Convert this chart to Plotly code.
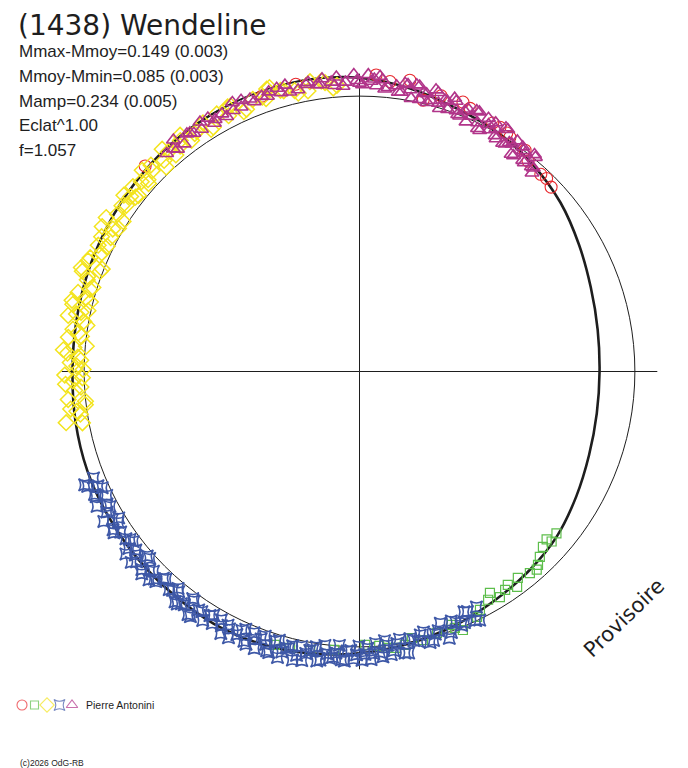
import plotly.graph_objects as go

# ---- header values -------------------------------------------------------
TITLE = "(1438) Wendeline"
MMAX_MMOY, MMAX_MMOY_ERR = 0.149, 0.003
MMOY_MMIN, MMOY_MMIN_ERR = 0.085, 0.003
MAMP, MAMP_ERR = 0.234, 0.005
ECLAT_EXP = 1.00
FREQ = 1.057
OBSERVER = "Pierre Antonini"
WATERMARK = "Provisoire"
COPYRIGHT = "(c)2026 OdG-RB"

# ---- Fourier fit: phase in degrees (0 at top, clockwise), mag minus mean --
FIT_PHASE = [0, 10, 20, 30, 40, 50, 60, 70, 80, 90, 100, 110, 120, 130, 140,
             150, 160, 170, 180, 190, 200, 210, 220, 230, 240, 250, 260, 270,
             280, 290, 300, 310, 320, 330, 340, 350, 360]
FIT_DM = [-0.070, -0.047, -0.020, -0.003, 0.022, 0.052, 0.090, 0.122, 0.141,
          0.149, 0.145, 0.130, 0.104, 0.074, 0.055, 0.037, 0.015, -0.005,
          -0.025, -0.042, -0.055, -0.061, -0.058, -0.057, -0.056, -0.055,
          -0.050, -0.045, -0.047, -0.053, -0.060, -0.068, -0.076, -0.081,
          -0.084, -0.080, -0.070]

# ---- session 1 (red circles) ----------------------------------------------
S1_PHASE = [313.8, 315.4, 320.0, 340.5, 347.5, 354.7, 357.0, 3.2, 6.0, 9.8,
            13.2, 16.5, 21.0, 22.8, 28.2, 29.9, 31.7, 32.7, 36.8, 38.7, 42.6,
            44.1, 46.1]
S1_DM = [-0.082, -0.086, -0.090, -0.064, -0.072, -0.089, -0.098, -0.082,
         -0.062, -0.077, -0.013, -0.047, -0.051, -0.039, -0.026, -0.025,
         -0.019, -0.012, -0.004, 0.023, 0.030, 0.026, 0.038]

# ---- session 2 (green squares) --------------------------------------------
S2_PHASE = [129.4, 131.5, 131.9, 133.7, 135.8, 137.3, 138.2, 139.8, 142.5,
            143.8, 145.2, 146.3, 148.1, 149.5, 150.6, 153.2, 154.4, 158.2,
            159.6, 160.0, 163.5, 166.7, 168.9, 170.6, 172.5, 174.3, 175.9,
            178.8, 185.2, 190.0, 194.1, 197.2]
S2_DM = [0.084, 0.077, 0.099, 0.089, 0.068, 0.049, 0.038, 0.046, 0.062, 0.034,
         0.063, 0.052, 0.039, 0.075, 0.054, 0.033, 0.013, -0.012, 0.007, 0.023,
         0.011, -0.002, 0.015, -0.007, -0.013, -0.009, 0.001, 0.008, -0.016,
         -0.032, -0.037, -0.042]

# ---- session 3 (yellow diamonds) ------------------------------------------
S3_PHASE = [259.5, 260.7, 262.0, 263.1, 264.5, 265.6, 266.8, 268.1, 269.3,
            270.4, 271.8, 272.9, 274.2, 275.3, 276.7, 277.8, 279.0, 280.3,
            281.5, 282.6, 283.9, 285.0, 286.3, 287.5, 288.6, 289.9, 291.1,
            292.2, 293.5, 294.7, 295.8, 297.0, 298.3, 299.4, 300.7, 301.9,
            303.0, 304.3, 305.5, 306.8, 307.9, 309.2, 310.4, 311.7, 312.8,
            314.1, 315.3, 316.6, 317.8, 319.0, 320.3, 321.5, 322.8, 324.0,
            325.3, 326.6, 327.8, 329.1, 330.3, 331.6, 332.9, 334.1, 335.4,
            336.7, 338.0, 339.2, 340.5, 341.8, 343.0, 344.3, 345.6, 347.0,
            348.3, 349.6, 351.0, 352.5, 354.0, 355.5,
            260.1, 261.3, 262.6, 263.8, 265.0, 266.2, 267.5, 268.7, 269.9,
            271.1, 272.3, 273.6, 274.8, 276.0, 277.2, 278.4, 279.6, 280.9,
            282.0, 283.2, 284.5, 285.7, 286.9, 288.0, 289.3, 290.5, 291.7,
            292.9, 294.1, 295.3, 296.4, 297.6, 298.9, 300.0, 301.3, 302.4,
            303.7, 304.9, 306.1, 307.4, 308.5, 309.8, 311.0, 312.2, 313.5,
            314.7, 315.9, 317.2, 318.4, 319.7, 320.9, 322.2, 323.4, 324.6,
            325.9, 327.2, 328.5, 329.7, 331.0, 332.2, 333.5, 334.7, 336.0,
            337.3, 338.6, 339.9, 341.1, 342.4, 343.6, 344.9, 346.3, 347.6,
            348.9, 350.3, 351.7, 353.2, 354.7, 356.2]
S3_DM = [-0.025, -0.090, -0.039, -0.003, -0.066, -0.095, -0.014, -0.044,
         -0.074, -0.004, -0.054, -0.026, -0.082, 0.004, -0.068, -0.033, -0.091,
         -0.019, -0.052, -0.011, -0.079, -0.032, -0.098, -0.016, -0.046,
         -0.074, -0.010, -0.068, -0.093, -0.032, -0.057, -0.108, -0.028,
         -0.076, -0.019, -0.089, -0.051, -0.105, -0.042, -0.072, -0.033,
         -0.065, -0.097, -0.028, -0.079, -0.051, -0.108, -0.023, -0.096,
         -0.061, -0.112, -0.049, -0.081, -0.040, -0.054, -0.110, -0.070,
         -0.036, -0.099, -0.108, -0.046, -0.076, -0.104, -0.039, -0.096,
         -0.118, -0.060, -0.083, -0.113, -0.064, -0.128, -0.050, -0.097,
         -0.038, -0.106, -0.067, -0.096, -0.045,
         -0.085, -0.027, -0.061, -0.001, -0.091, -0.039, -0.072, -0.007,
         -0.095, -0.029, -0.014, -0.066, -0.043, -0.092, -0.019, -0.055,
         -0.004, -0.081, -0.036, -0.073, -0.010, -0.065, -0.025, -0.093,
         -0.048, -0.082, -0.006, -0.065, -0.037, -0.102, -0.024, -0.060,
         -0.096, -0.037, -0.080, -0.018, -0.094, -0.055, -0.113, -0.049,
         -0.028, -0.118, -0.053, -0.039, -0.091, -0.069, -0.119, -0.047,
         -0.083, -0.033, -0.110, -0.065, -0.102, -0.113, -0.057, -0.092,
         -0.033, -0.124, -0.073, -0.108, -0.077, -0.111, -0.035, -0.093,
         -0.065, -0.129, -0.050, -0.085, -0.120, -0.059, -0.100, -0.037,
         -0.111, -0.071, -0.127, -0.060, -0.036, -0.089]

# ---- session 4 (blue stars) -----------------------------------------------
S4_PHASE = [248.2, 247.1, 245.7, 244.6, 243.2, 242.3, 240.9, 239.6, 238.7,
            237.3, 236.1, 235.0, 233.8, 232.5, 231.4, 230.1, 229.0, 227.7,
            226.6, 225.3, 224.1, 223.0, 221.7, 220.5, 219.4, 218.1, 216.9,
            215.8, 214.6, 213.3, 212.2, 210.9, 209.8, 208.5, 207.4, 206.2,
            205.0, 203.8, 202.6, 201.5, 200.2, 199.0, 197.9, 196.6, 195.5,
            194.3, 193.1, 191.9, 190.8, 189.5, 188.4, 187.2, 186.0, 184.8,
            183.6, 182.5, 181.2, 180.1, 178.9, 177.7, 176.6, 175.3, 174.2,
            173.0, 171.5, 170.1, 168.6, 167.0, 165.4, 163.9, 162.2, 160.6,
            159.0, 157.3, 155.8, 154.2,
            247.6, 246.4, 245.1, 243.9, 242.8, 241.6, 240.2, 239.1, 238.0,
            236.7, 235.5, 234.4, 233.1, 232.0, 230.7, 229.5, 228.3, 227.1,
            225.9, 224.7, 223.5, 222.3, 221.1, 219.9, 218.7, 217.5, 216.3,
            215.2, 214.0, 212.7, 211.5, 210.3, 209.1, 207.9, 206.8, 205.6,
            204.4, 203.2, 202.0, 200.8, 199.6, 198.4, 197.2, 196.0, 194.9,
            193.7, 192.5, 191.3, 190.1, 188.9, 187.8, 186.6, 185.4, 184.2,
            183.0, 181.8, 180.6, 179.5, 178.3, 177.1, 175.9, 174.7, 173.6,
            172.2, 170.8, 169.3, 167.8, 166.2, 164.6, 163.1, 161.4, 159.8,
            158.1, 156.5, 155.0, 153.6]
S4_DM = [-0.043, -0.075, -0.027, -0.062, -0.086, -0.038, -0.053, -0.080,
         -0.025, -0.067, -0.048, -0.090, -0.035, -0.059, -0.042, -0.084,
         -0.023, -0.072, -0.052, -0.079, -0.066, -0.033, -0.089, -0.048,
         -0.037, -0.076, -0.063, -0.029, -0.085, -0.046, -0.072, -0.034,
         -0.096, -0.054, -0.040, -0.081, -0.057, -0.025, -0.076, -0.047,
         -0.037, -0.051, -0.076, -0.020, -0.060, -0.040, -0.079, -0.022,
         -0.045, -0.026, -0.066, -0.003, -0.050, -0.028, -0.052, -0.017,
         -0.047, 0.003, -0.029, -0.050, 0.012, -0.042, 0.001, -0.023, 0.019,
         -0.040, 0.004, 0.020, -0.018, 0.008, 0.044, -0.005, 0.026, 0.013,
         0.049, -0.003,
         -0.083, -0.039, -0.064, -0.024, -0.075, -0.032, -0.090, -0.049,
         -0.036, -0.070, -0.086, -0.046, -0.030, -0.080, -0.055, -0.068,
         -0.022, -0.083, -0.045, -0.063, -0.037, -0.091, -0.054, -0.029,
         -0.075, -0.066, -0.025, -0.084, -0.047, -0.091, -0.042, -0.063,
         -0.034, -0.080, -0.050, -0.094, -0.035, -0.069, -0.025, -0.080,
         -0.022, -0.072, -0.027, -0.084, -0.041, -0.027, -0.059, -0.074,
         -0.031, -0.013, -0.061, -0.034, -0.045, 0.003, -0.056, -0.015,
         -0.031, -0.052, -0.006, -0.028, -0.024, 0.020, -0.037, 0.003,
         -0.038, 0.014, -0.003, 0.029, -0.014, 0.018, -0.024, 0.038, 0.007,
         0.054, 0.002, 0.050]

# ---- session 5 (purple triangles) -----------------------------------------
S5_PHASE = [318.5, 319.6, 320.7, 321.8, 322.9, 324.0, 325.2, 326.3, 327.4,
            328.5, 329.7, 330.8, 331.9, 333.0, 334.2, 335.3, 336.4, 337.5,
            338.7, 339.8, 340.9, 342.0, 343.2, 344.3, 345.4, 346.5, 347.7,
            348.8, 349.9, 351.0, 352.2, 353.3, 354.4, 355.5, 356.7, 357.8,
            358.9, 0.0, 1.2, 2.3, 3.4, 4.5, 5.7, 6.8, 7.9, 9.0, 10.2, 11.3,
            12.4, 13.6, 14.7, 15.8, 16.9, 18.0, 19.2, 20.3, 21.4, 22.5, 23.7,
            24.8, 25.9, 27.0, 28.2, 29.3, 30.4, 31.5, 32.6, 33.8, 34.9, 36.0,
            37.2, 38.3, 39.4, 40.5,
            319.0, 320.1, 321.2, 322.4, 323.5, 324.6, 325.7, 326.9, 328.0,
            329.1, 330.2, 331.4, 332.5, 333.6, 334.7, 335.9, 337.0, 338.1,
            339.2, 340.4, 341.5, 342.6, 343.7, 344.9, 346.0, 347.1, 348.2,
            349.4, 350.5, 351.6, 352.7, 353.9, 355.0, 356.1, 357.2, 358.4,
            359.5, 0.6, 1.7, 2.9, 4.0, 5.1, 6.2, 7.4, 8.5, 9.6, 10.7, 11.9,
            13.0, 14.1, 15.2, 16.4, 17.5, 18.6, 19.7, 20.9, 22.0, 23.1, 24.2,
            25.4, 26.5, 27.6, 28.7, 29.9, 31.0, 32.1, 33.2, 34.4, 35.5, 36.6,
            37.7, 38.9, 40.0, 41.0]
S5_DM = [-0.060, -0.101, -0.046, -0.087, -0.109, -0.070, -0.057, -0.097,
         -0.079, -0.109, -0.047, -0.087, -0.064, -0.117, -0.056, -0.097,
         -0.078, -0.105, -0.055, -0.087, -0.104, -0.071, -0.116, -0.055,
         -0.078, -0.096, -0.050, -0.106, -0.070, -0.087, -0.054, -0.111,
         -0.059, -0.076, -0.040, -0.093, -0.082, -0.050, -0.095, -0.058,
         -0.042, -0.066, -0.039, -0.089, -0.026, -0.063, -0.042, -0.065,
         -0.012, -0.040, -0.019, -0.056, 0.002, -0.035, -0.054, -0.011, 0.004,
         -0.034, -0.013, -0.041, 0.021, -0.034, 0.004, -0.012, 0.022, -0.033,
         0.021, 0.006, 0.042, -0.009, 0.004, 0.038, -0.007, 0.031,
         -0.099, -0.057, -0.082, -0.046, -0.106, -0.067, -0.096, -0.053,
         -0.113, -0.076, -0.058, -0.093, -0.047, -0.103, -0.084, -0.055,
         -0.113, -0.070, -0.093, -0.064, -0.057, -0.114, -0.075, -0.101,
         -0.049, -0.087, -0.108, -0.064, -0.115, -0.056, -0.075, -0.100,
         -0.045, -0.087, -0.055, -0.104, -0.060, -0.044, -0.082, -0.067,
         -0.078, -0.032, -0.089, -0.049, -0.027, -0.060, -0.010, -0.063,
         -0.041, -0.008, -0.063, -0.017, -0.036, -0.004, -0.045, 0.001,
         -0.022, 0.016, -0.041, 0.000, 0.024, -0.013, -0.032, 0.013, -0.035,
         0.024, 0.007, -0.016, 0.041, 0.001, 0.034, -0.013, 0.032, 0.050]

SESSIONS = [(S1_PHASE, S1_DM), (S2_PHASE, S2_DM), (S3_PHASE, S3_DM),
            (S4_PHASE, S4_DM), (S5_PHASE, S5_DM)]
COLORS = ["#E8282D", "#5DBE4B", "#F3E41E", "#3E58A7", "#B1358A"]
SYMBOLS = ["circle-open", "square-open", "diamond-open", "star-square-open",
           "triangle-up-open"]
SIZES = [12, 9, 12, 11, 12]
WIDTHS = [1.1, 1.2, 1.5, 1.6, 1.6]
KEY_SIZES = [10, 8, 11, 10, 10]

# ---- page geometry (body has an 8px margin) --------------------------------
OFF = 8
W, H = 680, 760
CX, CY = 359.5, 371.5        # screen centre of the polar plot
RAD = 297.8                  # screen radius of the axis cross
INK = "#1E1E1E"
FONT = "Liberation Sans, Arial, sans-serif"
WIDE = "DejaVu Sans, sans-serif"


def px(sx):
    return (sx - OFF) / W


def py(sy):
    return 1 - (sy - OFF) / H


def to_radius(dm):
    return [(10 ** (-0.4 * m)) ** ECLAT_EXP for m in dm]


r_max = (10 ** (0.4 * MMOY_MMIN)) ** ECLAT_EXP

fig = go.Figure()

fig.add_trace(go.Scatterpolar(
    r=to_radius(FIT_DM), theta=FIT_PHASE, mode="lines",
    line=dict(color=INK, width=2.6, shape="spline"),
    hoverinfo="skip",
))

for (phase, dm), col, sym, size, lw in zip(SESSIONS, COLORS, SYMBOLS, SIZES,
                                           WIDTHS):
    fig.add_trace(go.Scatterpolar(
        r=to_radius(dm), theta=phase, mode="markers",
        marker=dict(symbol=sym, size=size, color=col,
                    line=dict(color=col, width=lw)),
    ))

# session key at the bottom left
fig.add_trace(go.Scatter(
    x=list(range(len(COLORS))), y=[0] * len(COLORS), mode="markers",
    marker=dict(symbol=SYMBOLS, size=KEY_SIZES, color=COLORS,
                line=dict(color=COLORS, width=1.1)),
    cliponaxis=False, xaxis="x", yaxis="y",
))

fig.update_layout(
    width=W, height=H,
    margin=dict(l=0, r=0, t=0, b=0),
    paper_bgcolor="white", plot_bgcolor="white",
    showlegend=False,
    polar=dict(
        domain=dict(x=[px(CX - RAD), px(CX + RAD)],
                    y=[py(CY + RAD), py(CY - RAD)]),
        bgcolor="rgba(0,0,0,0)",
        radialaxis=dict(range=[0, r_max], tickvals=[1.0], showticklabels=False,
                        ticks="", showline=False, showgrid=True,
                        gridcolor=INK, gridwidth=1),
        angularaxis=dict(rotation=90, direction="clockwise",
                         tickvals=[0, 90, 180, 270], showticklabels=False,
                         ticks="", showline=False, showgrid=True,
                         gridcolor=INK, gridwidth=1.3),
    ),
    xaxis=dict(domain=[px(22), px(72)], range=[0, len(COLORS) - 1],
               visible=False),
    yaxis=dict(domain=[py(715), py(695)], range=[-1, 1], visible=False),
)

# title pinned to the top edge of the figure
fig.add_annotation(
    x=px(17), y=1, xref="paper", yref="paper", text=TITLE,
    showarrow=False, xanchor="left", yanchor="top", borderpad=0,
    font=dict(family=WIDE, size=28, color=INK),
)

notes = [
    (f"Mmax-Mmoy={MMAX_MMOY:.3f} ({MMAX_MMOY_ERR:.3f})", 18, 51.5, 17),
    (f"Mmoy-Mmin={MMOY_MMIN:.3f} ({MMOY_MMIN_ERR:.3f})", 18, 76, 17),
    (f"Mamp={MAMP:.3f} ({MAMP_ERR:.3f})", 18, 101, 17),
    (f"Eclat^{ECLAT_EXP:.2f}", 18, 125.5, 17),
    (f"f={FREQ:.3f}", 18, 150, 17),
    (OBSERVER, 85, 705, 10.5),
    (COPYRIGHT, 19, 763, 8.5),
]
for text, sx, sy, size in notes:
    fig.add_annotation(
        x=px(sx), y=py(sy), xref="paper", yref="paper", text=text,
        showarrow=False, xanchor="left", yanchor="middle", borderpad=0,
        font=dict(family=FONT, size=size, color=INK),
    )

fig.add_annotation(
    x=px(624), y=py(618), xref="paper", yref="paper", text=WATERMARK,
    showarrow=False, textangle=-44, xanchor="center", yanchor="middle",
    font=dict(family=WIDE, size=21, color=INK),
)

fig.write_html("out.html")
